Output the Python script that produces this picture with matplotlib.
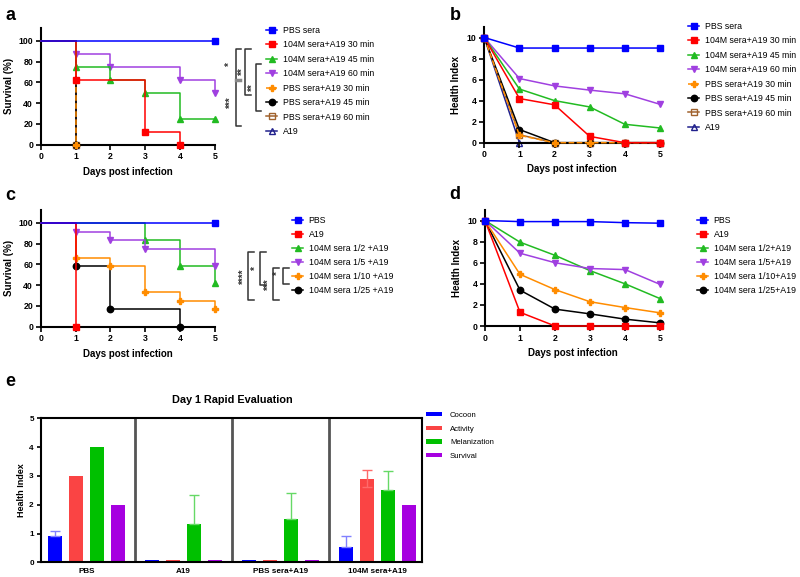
import matplotlib
matplotlib.use('Agg')
import matplotlib.pyplot as plt
from matplotlib.lines import Line2D
import numpy as np

plt.rcParams['font.family'] = ['Liberation Sans', 'DejaVu Sans']

W, H = 800, 577

days = [0, 1, 2, 3, 4, 5]

# a: survival (%)
a_labels = ['PBS sera', '104M sera+A19 30 min', '104M sera+A19 45 min', '104M sera+A19 60 min',
            'PBS sera+A19 30 min', 'PBS sera+A19 45 min', 'PBS sera+A19 60 min', 'A19']
a_pbs = [100, 100, 100, 100, 100, 100]
a_30 = [100, 62.5, 62.5, 12.5, 0]
a_45 = [100, 75, 62.5, 50, 25, 25]
a_60 = [100, 87.5, 75, 75, 62.5, 50]
a_pbs30 = [100, 0]
a_pbs45 = [100, 0]
a_pbs60 = [100, 0]
a_a19 = [100, 0]

# b: health index
b_pbs = [10, 9, 9, 9, 9, 9]
b_30 = [10, 4.2, 3.6, 0.6, 0, 0]
b_45 = [10, 5.1, 4.0, 3.4, 1.75, 1.4]
b_60 = [10, 6.1, 5.4, 5.0, 4.65, 3.65]
b_pbs30 = [10, 0.7, 0, 0, 0, 0]
b_pbs45 = [10, 1.25, 0, 0, 0, 0]
b_pbs60 = [10, 0.75, 0, 0, 0, 0]
b_a19 = [10, 0, 0, 0, 0, 0]

# c: survival (%), dilutions
c_labels = ['PBS', 'A19', '104M sera 1/2 +A19', '104M sera 1/5 +A19',
            '104M sera 1/10 +A19', '104M sera 1/25 +A19']
c_pbs = [100, 100, 100, 100, 100, 100]
c_a19 = [100, 0]
c_2 = [100, 100, 100, 83.3, 58.3, 41.7]
c_5 = [100, 91.7, 83.3, 75, 75, 58.3]
c_10 = [100, 66.7, 58.3, 33.3, 25, 16.7]
c_25 = [100, 58.3, 16.7, 16.7, 0]

# d: health index, dilutions
d_labels = ['PBS', 'A19', '104M sera 1/2+A19', '104M sera 1/5+A19',
            '104M sera 1/10+A19', '104M sera 1/25+A19']
d_pbs = [10, 9.9, 9.9, 9.9, 9.8, 9.75]
d_a19 = [10, 1.3, 0, 0, 0, 0]
d_2 = [10, 7.95, 6.7, 5.25, 4.0, 2.6]
d_5 = [10, 6.9, 6.0, 5.45, 5.35, 3.95]
d_10 = [10, 4.9, 3.45, 2.3, 1.75, 1.25]
d_25 = [10, 3.4, 1.6, 1.15, 0.65, 0.3]

# e: day 1 rapid evaluation
e_groups = ['PBS', 'A19', 'PBS sera+A19', '104M sera+A19']
e_names = ['Cocoon', 'Activity', 'Melanization', 'Survival']
e_cocoon = [0.9, 0.08, 0.08, 0.53]
e_activity = [3.0, 0.08, 0.08, 2.9]
e_melan = [4.0, 1.33, 1.5, 2.5]
e_survival = [2.0, 0.08, 0.08, 2.0]
e_cocoon_up = [0.2, 0, 0, 0.4]
e_activity_up = [0, 0, 0, 0.3]
e_activity_lo = [0, 0, 0, 0.27]
e_melan_up = [0, 1.0, 0.9, 0.68]

BLUE, RED, GREEN, PURPLE = '#0000ff', '#ff0000', '#22bb22', '#a040e0'
ORANGE, BROWN, NAVY = '#ff8c00', '#a0622d', '#20208c'

fig = plt.figure(figsize=(W / 100, H / 100), dpi=100)


def px_axes(l, t, r, b):
    return fig.add_axes([l / W, 1 - b / H, (r - l) / W, (b - t) / H])


def style(ax, fs=6.3):
    for s in ['top', 'right']:
        ax.spines[s].set_visible(False)
    for s in ['left', 'bottom']:
        ax.spines[s].set_linewidth(1.5)
    ax.tick_params(width=1.2, length=3.5, labelsize=fs, pad=2)
    for t in ax.get_xticklabels() + ax.get_yticklabels():
        t.set_fontweight('bold')


def km(ax, y, st, z):
    color, marker, mfc, ls = st
    x = days[:len(y)]
    marks = [i for i in range(1, len(y)) if y[i] != y[i - 1] or i == len(y) - 1]
    ax.plot(x, y, drawstyle='steps-post', color=color, lw=1.1, ls=ls, marker=marker,
            markevery=marks, ms=4.6, mfc=mfc, mec=color, mew=1, clip_on=False, zorder=z)


def curve(ax, y, st, z):
    color, marker, mfc, ls = st
    ax.plot(days[:len(y)], y, color=color, lw=1.1, ls=ls, marker=marker, ms=4.6,
            mfc=mfc, mec=color, mew=1, clip_on=False, zorder=z)


def legend(ax, labels, styles, x, y, fs=6.3, spacing=0.62):
    handles = [Line2D([], [], color=c, marker=m, mfc=f, mec=c, ls=l, lw=1.1, ms=4.6, mew=1)
               for c, m, f, l in styles]
    ax.legend(handles, labels, loc='upper left', bbox_to_anchor=(x / W, 1 - y / H),
              bbox_transform=fig.transFigure, frameon=False, fontsize=fs,
              borderpad=0, borderaxespad=0, handlelength=1.3, handletextpad=0.6,
              labelspacing=spacing)


def bracket(x, y0, y1, tick=5.5):
    xs = [x + tick, x, x, x + tick]
    ys = [y0, y0, y1, y1]
    fig.add_artist(Line2D([v / W for v in xs], [1 - v / H for v in ys],
                          color='#333333', lw=1.1))


def stars(x, y, s):
    fig.text(x / W, 1 - y / H, s, rotation=90, ha='center', va='center',
             fontsize=7, fontweight='bold', color='#333333')


a_styles = [(BLUE, 's', BLUE, '-'), (RED, 's', RED, '-'), (GREEN, '^', GREEN, '-'),
            (PURPLE, 'v', PURPLE, '-'), (ORANGE, 'P', ORANGE, '--'), ('black', 'o', 'black', '-'),
            (BROWN, 's', 'none', '-'), (NAVY, '^', 'none', '-')]
c_styles = [(BLUE, 's', BLUE, '-'), (RED, 's', RED, '-'), (GREEN, '^', GREEN, '-'),
            (PURPLE, 'v', PURPLE, '-'), (ORANGE, 'P', ORANGE, '-'), ('black', 'o', 'black', '-')]

# ---- a ----
ax = px_axes(40.7, 28, 215, 144.7)
a_series = [a_pbs, a_30, a_45, a_60, a_pbs30, a_pbs45, a_pbs60, a_a19]
a_z = [9, 8, 6, 5, 4, 3, 2, 1]
for y, st, z in zip(a_series, a_styles, a_z):
    km(ax, y, st, z)
ax.set_xlim(0, 5)
ax.set_ylim(0, 112.5)
ax.set_xticks(days)
ax.set_yticks([0, 20, 40, 60, 80, 100])
style(ax)
ax.set_ylabel('Survival (%)', fontsize=7, fontweight='bold')
ax.set_xlabel('Days post infection', fontsize=7, fontweight='bold')
ax.yaxis.set_label_coords(-0.153, 0.5)
ax.xaxis.set_label_coords(0.5, -0.19)
legend(ax, a_labels, a_styles, 266, 26)

bracket(235.5, 48.5, 126)
bracket(245, 48.5, 95)
bracket(255.5, 64, 110.7)
fig.add_artist(Line2D([236 / W, 240.5 / W], [1 - 80.5 / H, 1 - 80.5 / H], color='#888888', lw=2.5))
stars(229.5, 64.5, '*')
stars(231, 102, '***')
stars(242.5, 71.5, '**')
stars(252.5, 87.3, '**')

# ---- b ----
ax = px_axes(484.3, 27, 660, 142.7)
b_series = [b_pbs, b_30, b_45, b_60, b_pbs30, b_pbs45, b_pbs60, b_a19]
for y, st, z in zip(b_series, a_styles, a_z):
    curve(ax, y, st, z)
ax.set_xlim(0, 5)
ax.set_ylim(0, 11)
ax.set_xticks(days)
ax.set_yticks([0, 2, 4, 6, 8, 10])
style(ax)
ax.set_ylabel('Health Index', fontsize=7, fontweight='bold')
ax.set_xlabel('Days post infection', fontsize=7, fontweight='bold')
ax.yaxis.set_label_coords(-0.133, 0.5)
ax.xaxis.set_label_coords(0.5, -0.184)
legend(ax, a_labels, a_styles, 688, 22)

# ---- c ----
ax = px_axes(40.7, 210, 215, 326.7)
c_series = [c_pbs, c_a19, c_2, c_5, c_10, c_25]
c_z = [9, 8, 5, 6, 4, 3]
for y, st, z in zip(c_series, c_styles, c_z):
    km(ax, y, st, z)
ax.set_xlim(0, 5)
ax.set_ylim(0, 112.5)
ax.set_xticks(days)
ax.set_yticks([0, 20, 40, 60, 80, 100])
style(ax)
ax.set_ylabel('Survival (%)', fontsize=7, fontweight='bold')
ax.set_xlabel('Days post infection', fontsize=7, fontweight='bold')
ax.yaxis.set_label_coords(-0.153, 0.5)
ax.xaxis.set_label_coords(0.5, -0.19)
legend(ax, c_labels, c_styles, 292, 216, spacing=0.58)

bracket(248, 252, 300)
bracket(260, 252, 285)
bracket(273, 268, 300)
bracket(283, 268, 284)
stars(243.5, 276, '****')
stars(256, 268, '*')
stars(268.5, 284, '***')
stars(278, 273.5, '*')

# ---- d ----
ax = px_axes(485, 210, 660, 326)
d_series = [d_pbs, d_a19, d_2, d_5, d_10, d_25]
for y, st, z in zip(d_series, c_styles, c_z):
    curve(ax, y, st, z)
ax.set_xlim(0, 5)
ax.set_ylim(0, 11)
ax.set_xticks(days)
ax.set_yticks([0, 2, 4, 6, 8, 10])
style(ax)
ax.set_ylabel('Health Index', fontsize=7, fontweight='bold')
ax.set_xlabel('Days post infection', fontsize=7, fontweight='bold')
ax.yaxis.set_label_coords(-0.133, 0.5)
ax.xaxis.set_label_coords(0.5, -0.19)
legend(ax, d_labels, c_styles, 697, 216, spacing=0.58)

# ---- e ----
ax = px_axes(40.7, 418.3, 422.3, 562.3)
x = np.arange(len(e_groups))
e_vals = [e_cocoon, e_activity, e_melan, e_survival]
e_cols = ['#0000ff', '#fa4444', '#00c000', '#a600e0']
e_errc = ['#8080ff', '#ff6a6a', '#66d966', '#c060f0']
e_lo = [[0] * 4, e_activity_lo, [0] * 4, [0] * 4]
e_up = [e_cocoon_up, e_activity_up, e_melan_up, [0] * 4]
offs = [-0.322, -0.107, 0.107, 0.322]
for vals, col, ec, lo, up, off, name in zip(e_vals, e_cols, e_errc, e_lo, e_up, offs, e_names):
    ax.bar(x + off, vals, width=0.144, color=col, label=name, zorder=2)
    has = [i for i in range(len(vals)) if up[i] > 0]
    if has:
        ax.errorbar(x[has] + off, np.array(vals)[has],
                    yerr=[np.array(lo)[has], np.array(up)[has]],
                    fmt='none', ecolor=ec, elinewidth=1, capsize=3.5, capthick=1, zorder=3)
for b in [0.5, 1.5, 2.5]:
    ax.axvline(b, color='#555555', lw=2, zorder=1)
ax.set_xlim(-0.472, 3.462)
ax.set_ylim(0, 5)
ax.set_xticks(x)
ax.set_xticklabels(e_groups)
ax.set_yticks([0, 1, 2, 3, 4, 5])
for s in ax.spines.values():
    s.set_linewidth(1.5)
ax.tick_params(axis='x', length=0, labelsize=5.9, pad=4)
ax.tick_params(axis='y', width=1.2, length=3, labelsize=5.9, pad=2)
for t in ax.get_xticklabels() + ax.get_yticklabels():
    t.set_fontweight('bold')
ax.set_ylabel('Health Index', fontsize=6.5, fontweight='bold')
ax.yaxis.set_label_coords(-0.0385, 0.5)
ax.legend(loc='upper left', bbox_to_anchor=(426 / W, 1 - 412 / H), bbox_transform=fig.transFigure,
          frameon=False, fontsize=5.6, borderpad=0, borderaxespad=0, handlelength=2.0,
          handleheight=0.5, handletextpad=1.1, labelspacing=0.85)
fig.text(232 / W, 1 - 400 / H, 'Day 1 Rapid Evaluation', ha='center', va='center',
         fontsize=7.8, fontweight='bold')

# panel letters
for letter, px, py in [('a', 10, 15), ('b', 455, 15), ('c', 10, 195), ('d', 455, 194), ('e', 10, 382)]:
    fig.text(px / W, 1 - py / H, letter, ha='center', va='center', fontsize=13, fontweight='bold')

fig.savefig('out.png', dpi=100)
